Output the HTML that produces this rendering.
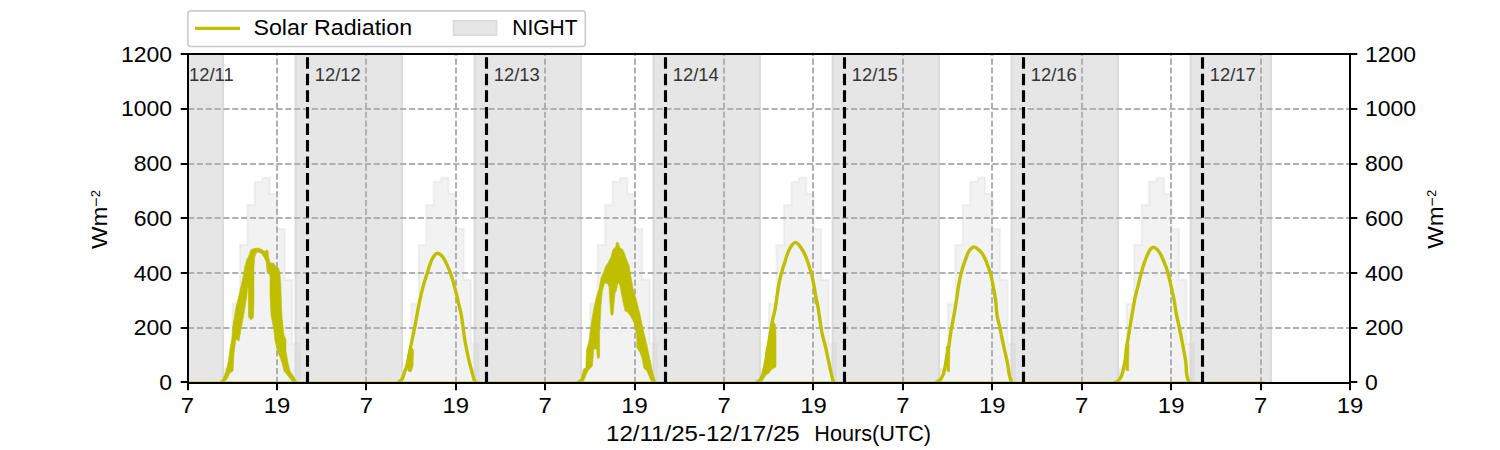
<!DOCTYPE html>
<html><head><meta charset="utf-8"><style>
html,body{margin:0;padding:0;background:#fff;width:1500px;height:450px;overflow:hidden;font-family:"Liberation Sans",sans-serif;}
svg{display:block;}
</style></head><body>
<svg width="1500" height="450" viewBox="0 0 1500 450">
<rect x="0" y="0" width="1500" height="450" fill="#ffffff"/>
<defs><clipPath id="ax"><rect x="187.5" y="54" width="1162.5" height="328.5"/></clipPath></defs>
<g clip-path="url(#ax)">
<rect x="186" y="49" width="38" height="338.5" fill="#e6e6e6"/>
<path d="M187.05 49V387.5M222.95 49V387.5" stroke="#dcdcdc" stroke-width="2.1"/>
<rect x="294.7" y="49" width="108.3" height="338.5" fill="#e6e6e6"/>
<path d="M295.75 49V387.5M401.95 49V387.5" stroke="#dcdcdc" stroke-width="2.1"/>
<rect x="473.7" y="49" width="108.3" height="338.5" fill="#e6e6e6"/>
<path d="M474.75 49V387.5M580.95 49V387.5" stroke="#dcdcdc" stroke-width="2.1"/>
<rect x="652.7" y="49" width="108.3" height="338.5" fill="#e6e6e6"/>
<path d="M653.75 49V387.5M759.95 49V387.5" stroke="#dcdcdc" stroke-width="2.1"/>
<rect x="831.7" y="49" width="108.3" height="338.5" fill="#e6e6e6"/>
<path d="M832.75 49V387.5M938.95 49V387.5" stroke="#dcdcdc" stroke-width="2.1"/>
<rect x="1010.7" y="49" width="108.3" height="338.5" fill="#e6e6e6"/>
<path d="M1011.75 49V387.5M1117.95 49V387.5" stroke="#dcdcdc" stroke-width="2.1"/>
<rect x="1189.7" y="49" width="82.2" height="338.5" fill="#e6e6e6"/>
<path d="M1190.75 49V387.5M1270.85 49V387.5" stroke="#dcdcdc" stroke-width="2.1"/>
<path d="M225.06 382.5V368.81H232.51V303.66H239.96V245.08H247.42V205.11H254.87V181.84H262.32V177.74H269.77V193.89H277.22V228.93H284.68V279.84H292.13V343.63H299.58V382.5Z" fill="rgba(211,211,211,0.3)" stroke="rgba(211,211,211,0.3)" stroke-width="2.08"/>
<path d="M403.91 382.5V368.81H411.36V303.66H418.81V245.08H426.26V205.11H433.71V181.84H441.17V177.74H448.62V193.89H456.07V228.93H463.52V279.84H470.97V343.63H478.43V382.5Z" fill="rgba(211,211,211,0.3)" stroke="rgba(211,211,211,0.3)" stroke-width="2.08"/>
<path d="M582.75 382.5V368.81H590.2V303.66H597.66V245.08H605.11V205.11H612.56V181.84H620.01V177.74H627.46V193.89H634.92V228.93H642.37V279.84H649.82V343.63H657.27V382.5Z" fill="rgba(211,211,211,0.3)" stroke="rgba(211,211,211,0.3)" stroke-width="2.08"/>
<path d="M761.6 382.5V368.81H769.05V303.66H776.5V245.08H783.95V205.11H791.41V181.84H798.86V177.74H806.31V193.89H813.76V228.93H821.21V279.84H828.67V343.63H836.12V382.5Z" fill="rgba(211,211,211,0.3)" stroke="rgba(211,211,211,0.3)" stroke-width="2.08"/>
<path d="M940.44 382.5V368.81H947.9V303.66H955.35V245.08H962.8V205.11H970.25V181.84H977.7V177.74H985.16V193.89H992.61V228.93H1000.06V279.84H1007.51V343.63H1014.96V382.5Z" fill="rgba(211,211,211,0.3)" stroke="rgba(211,211,211,0.3)" stroke-width="2.08"/>
<path d="M1119.29 382.5V368.81H1126.74V303.66H1134.19V245.08H1141.65V205.11H1149.1V181.84H1156.55V177.74H1164V193.89H1171.45V228.93H1178.91V279.84H1186.36V343.63H1193.81V382.5Z" fill="rgba(211,211,211,0.3)" stroke="rgba(211,211,211,0.3)" stroke-width="2.08"/>
<path d="M188 383V54M277 383V54M366 383V54M456 383V54M545 383V54M635 383V54M724 383V54M813 383V54M903 383V54M992 383V54M1082 383V54M1171 383V54M1261 383V54M1350 383V54M188 328H1350M188 273H1350M188 218H1350M188 164H1350M188 109H1350" fill="none" stroke="#b0b0b0" stroke-width="2" stroke-dasharray="6.17 2.67"/>
<path d="M187.5 383.1 L1264.7 383.1" fill="none" stroke="#bfbf00" stroke-width="3.4" stroke-linejoin="round" stroke-linecap="butt"/>
<path d="M398 382.5C398.67 381.92 400.83 380.92 402 379C403.17 377.08 404.17 373.33 405 371C405.83 368.67 406 369.33 407 365C408 360.67 409.83 350.67 411 345C412.17 339.33 413 336 414 331C415 326 416.22 319.2 417 315C417.78 310.8 417.83 310 418.7 305.8C419.57 301.6 420.87 294.98 422.2 289.8C423.53 284.62 425.22 279.45 426.7 274.7C428.18 269.95 429.77 264.57 431.1 261.3C432.43 258.03 433.52 256.43 434.7 255.1C435.88 253.77 436.87 253 438.2 253.3C439.53 253.6 441.22 254.97 442.7 256.9C444.18 258.83 445.62 261.65 447.1 264.9C448.58 268.15 450.12 271.82 451.6 276.4C453.08 280.98 454.67 287.2 456 292.4C457.33 297.6 458.72 303.83 459.6 307.6C460.48 311.37 460.42 309.57 461.3 315C462.18 320.43 463.72 333.03 464.9 340.2C466.08 347.37 467.22 352.67 468.4 358C469.58 363.33 470.95 368.35 472 372.2C473.05 376.05 473.87 379.38 474.7 381.1C475.53 382.82 476.62 382.27 477 382.5" fill="none" stroke="#bfbf00" stroke-width="3.4" stroke-linejoin="round" stroke-linecap="butt"/>
<path d="M756 382.5C756.67 382.08 758.83 381.42 760 380C761.17 378.58 762 377.33 763 374C764 370.67 764.5 368.5 766 360C767.5 351.5 770.5 331.33 772 323C773.5 314.67 774.25 313.83 775 310C775.75 306.17 775.88 304.15 776.5 300C777.12 295.85 777.9 289.5 778.7 285.1C779.5 280.7 780.27 277.45 781.3 273.6C782.33 269.75 783.72 265.72 784.9 262C786.08 258.28 787.22 254.12 788.4 251.3C789.58 248.48 790.8 246.58 792 245.1C793.2 243.62 794.42 242.4 795.6 242.4C796.78 242.4 797.92 243.77 799.1 245.1C800.28 246.43 801.52 248.32 802.7 250.4C803.88 252.48 805.17 255.07 806.2 257.6C807.23 260.13 808 262.8 808.9 265.6C809.8 268.4 810.72 270.85 811.6 274.4C812.48 277.95 813.47 283.03 814.2 286.9C814.93 290.77 815.4 294.42 816 297.6C816.6 300.78 817.2 302.63 817.8 306C818.4 309.37 818.87 313.17 819.6 317.8C820.33 322.43 821.17 328.77 822.2 333.8C823.23 338.83 824.77 343.57 825.8 348C826.83 352.43 827.52 356.25 828.4 360.4C829.28 364.55 830.25 369.22 831.1 372.9C831.95 376.58 833.1 380.9 833.5 382.5" fill="none" stroke="#bfbf00" stroke-width="3.4" stroke-linejoin="round" stroke-linecap="butt"/>
<path d="M936 382.5C936.67 382.08 938.83 381.25 940 380C941.17 378.75 942.17 377.17 943 375C943.83 372.83 944.33 370.33 945 367C945.67 363.67 946.33 358.67 947 355C947.67 351.33 948.33 349 949 345C949.67 341 950.17 336 951 331C951.83 326 953.08 320.17 954 315C954.92 309.83 955.72 304.98 956.5 300C957.28 295.02 957.9 289.65 958.7 285.1C959.5 280.55 960.27 276.7 961.3 272.7C962.33 268.7 963.72 264.52 964.9 261.1C966.08 257.68 967.37 254.27 968.4 252.2C969.43 250.13 970.2 249.58 971.1 248.7C972 247.82 972.77 246.9 973.8 246.9C974.83 246.9 975.97 247.67 977.3 248.7C978.63 249.73 980.47 251.33 981.8 253.1C983.13 254.87 984.27 257.08 985.3 259.3C986.33 261.52 987.1 263.88 988 266.4C988.9 268.92 989.82 270.98 990.7 274.4C991.58 277.82 992.48 282.63 993.3 286.9C994.12 291.17 995 295.45 995.6 300C996.2 304.55 996.23 309.75 996.9 314.2C997.57 318.65 998.72 322.55 999.6 326.7C1000.48 330.85 1001.32 334.95 1002.2 339.1C1003.08 343.25 1004 347.45 1004.9 351.6C1005.8 355.75 1006.87 360.15 1007.6 364C1008.33 367.85 1008.65 371.62 1009.3 374.7C1009.95 377.78 1011.13 381.2 1011.5 382.5" fill="none" stroke="#bfbf00" stroke-width="3.4" stroke-linejoin="round" stroke-linecap="butt"/>
<path d="M1114 382.5C1114.67 382.25 1116.83 381.92 1118 381C1119.17 380.08 1120.17 378.67 1121 377C1121.83 375.33 1122.33 373.67 1123 371C1123.67 368.33 1124.33 365.33 1125 361C1125.67 356.67 1126.33 349.67 1127 345C1127.67 340.33 1128.17 338 1129 333C1129.83 328 1130.98 320.9 1132 315C1133.02 309.1 1134.13 302.28 1135.1 297.6C1136.07 292.92 1136.92 290.47 1137.8 286.9C1138.68 283.33 1139.52 279.62 1140.4 276.2C1141.28 272.78 1142.05 269.65 1143.1 266.4C1144.15 263.15 1145.52 259.5 1146.7 256.7C1147.88 253.9 1149.08 251.18 1150.2 249.6C1151.32 248.02 1152.22 247.2 1153.4 247.2C1154.58 247.2 1156.05 248.32 1157.3 249.6C1158.55 250.88 1159.72 252.68 1160.9 254.9C1162.08 257.12 1163.37 260.38 1164.4 262.9C1165.43 265.42 1166.2 267.03 1167.1 270C1168 272.97 1168.92 277 1169.8 280.7C1170.68 284.4 1171.62 288.65 1172.4 292.2C1173.18 295.75 1173.9 298.63 1174.5 302C1175.1 305.37 1175.3 308.58 1176 312.4C1176.7 316.22 1177.82 320.75 1178.7 324.9C1179.58 329.05 1180.42 332.85 1181.3 337.3C1182.18 341.75 1183.25 347.45 1184 351.6C1184.75 355.75 1185.35 358.35 1185.8 362.2C1186.25 366.05 1186.17 371.32 1186.7 374.7C1187.23 378.08 1188.62 381.2 1189 382.5" fill="none" stroke="#bfbf00" stroke-width="3.4" stroke-linejoin="round" stroke-linecap="butt"/>
<path d="M410 346 L413.5 350 L413 366 L411 372 L408 371 L407.5 358Z" fill="#bfbf00" stroke="#bfbf00" stroke-width="0.6" stroke-linejoin="round"/>
<path d="M773.5 322 L771 330 L768 345 L766 349 L765 363 L763 371 L760 379 L757 381.4 L762 381 L766 375 L769 373 L772 369 L776 367 L776 335 L775.5 325Z" fill="#bfbf00" stroke="#bfbf00" stroke-width="0.6" stroke-linejoin="round"/>
<path d="M814 297 L816.5 297 L817.5 304 L815 304Z" fill="#bfbf00" stroke="#bfbf00" stroke-width="0.6" stroke-linejoin="round"/>
<path d="M946 347 L950 344 L949.5 372 L947 371Z" fill="#bfbf00" stroke="#bfbf00" stroke-width="0.6" stroke-linejoin="round"/>
<path d="M1125 347 L1129 344 L1128.5 371 L1126 370Z" fill="#bfbf00" stroke="#bfbf00" stroke-width="0.6" stroke-linejoin="round"/>
<path d="M219 382.5 L223 379 L226 371 L228 363 L230 349 L232 337 L233 325 L236 307 L239 295 L242.7 278.7 L244.7 266.7 L246.7 260 L249.3 254.7 L250.7 250 L253.3 248.7 L258 248 L261.3 249.3 L264.7 251.3 L266.7 250 L268 250.7 L268.7 257.3 L270 262.7 L274 263.3 L276 267.3 L278.7 268 L280 274.7 L280.7 282.7 L281.3 300 L282 317 L284 335 L286 340 L286 351 L288 363 L290 371 L294 377 L297 382.5 L293 382.5 L288 376 L284 371 L282 363 L280 357 L278 353 L275 341 L274 331 L271 315 L270 295 L270 276 L269.3 273.3 L267.3 273.3 L266 261.3 L264 257.3 L261.3 253.3 L258 252 L256 253.3 L254.7 257.3 L254 266.7 L254 300 L253.5 317 L251 320 L248.5 317 L248.3 287 L247.6 287 L246.8 296 L245 307 L243 319 L241 329 L239 341 L236 339 L234 353 L233 371 L230 373 L227 379 L224 382.5Z" fill="#bfbf00" stroke="#bfbf00" stroke-width="0.6" stroke-linejoin="round"/>
<path d="M575 382.5 L580.8 379.2 L583.7 369.1 L585.8 367.7 L586.6 348.9 L588.7 343.1 L590.9 325.8 L593.7 309 L596.3 297 L599 289 L601 278.3 L603.7 271.7 L606.3 265 L607.6 263.8 L611.1 256.7 L612.9 249.6 L615.6 246.9 L616.4 242.4 L618.2 242.4 L620 247.8 L622.7 249.6 L624.4 253.1 L626.2 258.4 L628 262.9 L629 265 L631 277 L633.7 291.7 L636.3 299.7 L638.3 307.7 L640.3 315.7 L643 329 L646.1 341.4 L648.4 352.3 L650.8 363.2 L653.1 374.1 L655.4 381.1 L656 382.5 L652 382.5 L650.8 380.3 L646.9 371 L643.8 367.9 L642.2 358.5 L639.9 352.3 L636.8 347.7 L636.8 336.8 L635.2 327.4 L633.7 322 L630.3 315.7 L627.7 312.3 L625 311 L623.7 305 L622.3 298.3 L621 291.7 L620.3 287 L619 283 L617.7 283.7 L616.3 291 L615 293 L613.7 307.7 L613 315 L611 315 L610.3 307.7 L609.7 298.3 L609 287 L607.7 283.7 L605 283 L604.3 283.7 L602.3 291.7 L601 305 L600.3 320 L599.6 331.6 L599.6 357.6 L597.4 358.3 L596.7 348.9 L593.8 348.9 L592.3 366.2 L588 370.6 L583.7 380.7 L582 382.5Z" fill="#bfbf00" stroke="#bfbf00" stroke-width="0.6" stroke-linejoin="round"/>
<path d="M307.5 383.4V54M486.5 383.4V54M665.5 383.4V54M844.5 383.4V54M1023.5 383.4V54M1202.5 383.4V54" fill="none" stroke="#000" stroke-width="3.125" stroke-dasharray="11.56 5"/>
</g>
<rect x="188" y="54" width="1162" height="329" fill="none" stroke="#000" stroke-width="2" stroke-linecap="square"/>
<path d="M188 383v7.29M277 383v7.29M366 383v7.29M456 383v7.29M545 383v7.29M635 383v7.29M724 383v7.29M813 383v7.29M903 383v7.29M992 383v7.29M1082 383v7.29M1171 383v7.29M1261 383v7.29M1350 383v7.29M188 382h-7.29M1350 382h7.29M188 328h-7.29M1350 328h7.29M188 273h-7.29M1350 273h7.29M188 218h-7.29M1350 218h7.29M188 164h-7.29M1350 164h7.29M188 109h-7.29M1350 109h7.29M188 54h-7.29M1350 54h7.29" fill="none" stroke="#000" stroke-width="2"/>
<g style="font-family:&quot;Liberation Sans&quot;,sans-serif">
<text transform="translate(187.5 412.8) scale(1.08 1)" text-anchor="middle" font-size="22.1" fill="#000">7</text>
<text transform="translate(276.92 412.8) scale(1.08 1)" text-anchor="middle" font-size="22.1" fill="#000">19</text>
<text transform="translate(366.35 412.8) scale(1.08 1)" text-anchor="middle" font-size="22.1" fill="#000">7</text>
<text transform="translate(455.77 412.8) scale(1.08 1)" text-anchor="middle" font-size="22.1" fill="#000">19</text>
<text transform="translate(545.19 412.8) scale(1.08 1)" text-anchor="middle" font-size="22.1" fill="#000">7</text>
<text transform="translate(634.62 412.8) scale(1.08 1)" text-anchor="middle" font-size="22.1" fill="#000">19</text>
<text transform="translate(724.04 412.8) scale(1.08 1)" text-anchor="middle" font-size="22.1" fill="#000">7</text>
<text transform="translate(813.46 412.8) scale(1.08 1)" text-anchor="middle" font-size="22.1" fill="#000">19</text>
<text transform="translate(902.88 412.8) scale(1.08 1)" text-anchor="middle" font-size="22.1" fill="#000">7</text>
<text transform="translate(992.31 412.8) scale(1.08 1)" text-anchor="middle" font-size="22.1" fill="#000">19</text>
<text transform="translate(1081.73 412.8) scale(1.08 1)" text-anchor="middle" font-size="22.1" fill="#000">7</text>
<text transform="translate(1171.15 412.8) scale(1.08 1)" text-anchor="middle" font-size="22.1" fill="#000">19</text>
<text transform="translate(1260.58 412.8) scale(1.08 1)" text-anchor="middle" font-size="22.1" fill="#000">7</text>
<text transform="translate(1350 412.8) scale(1.08 1)" text-anchor="middle" font-size="22.1" fill="#000">19</text>
<text transform="translate(172 390.1) scale(1.04 1)" text-anchor="end" font-size="22.1" fill="#000">0</text>
<text transform="translate(1365 390.1) scale(1.04 1)" text-anchor="start" font-size="22.1" fill="#000">0</text>
<text transform="translate(172 335.35) scale(1.04 1)" text-anchor="end" font-size="22.1" fill="#000">200</text>
<text transform="translate(1365 335.35) scale(1.04 1)" text-anchor="start" font-size="22.1" fill="#000">200</text>
<text transform="translate(172 280.6) scale(1.04 1)" text-anchor="end" font-size="22.1" fill="#000">400</text>
<text transform="translate(1365 280.6) scale(1.04 1)" text-anchor="start" font-size="22.1" fill="#000">400</text>
<text transform="translate(172 225.85) scale(1.04 1)" text-anchor="end" font-size="22.1" fill="#000">600</text>
<text transform="translate(1365 225.85) scale(1.04 1)" text-anchor="start" font-size="22.1" fill="#000">600</text>
<text transform="translate(172 171.1) scale(1.04 1)" text-anchor="end" font-size="22.1" fill="#000">800</text>
<text transform="translate(1365 171.1) scale(1.04 1)" text-anchor="start" font-size="22.1" fill="#000">800</text>
<text transform="translate(172 116.35) scale(1.04 1)" text-anchor="end" font-size="22.1" fill="#000">1000</text>
<text transform="translate(1365 116.35) scale(1.04 1)" text-anchor="start" font-size="22.1" fill="#000">1000</text>
<text transform="translate(172 61.6) scale(1.04 1)" text-anchor="end" font-size="22.1" fill="#000">1200</text>
<text transform="translate(1365 61.6) scale(1.04 1)" text-anchor="start" font-size="22.1" fill="#000">1200</text>
<text transform="translate(606 441.2) scale(1.09 1)" text-anchor="start" font-size="22.1" fill="#000">12/11/25-12/17/25</text>
<text transform="translate(814.3 441.2) scale(0.98 1)" text-anchor="start" font-size="22.1" fill="#000">Hours(UTC)</text>
<g transform="translate(107 219.5) rotate(-90)"><text text-anchor="middle" font-size="22.1" transform="scale(1.08 1)">Wm<tspan font-size="15" dy="-5.6">−</tspan><tspan font-size="12" dy="-1.4">2</tspan></text></g>
<g transform="translate(1442.7 219.3) rotate(-90)"><text text-anchor="middle" font-size="22.1" transform="scale(1.08 1)">Wm<tspan font-size="15" dy="-5.6">−</tspan><tspan font-size="12" dy="-1.4">2</tspan></text></g>
<text transform="translate(189 80.9) scale(1.04 1)" text-anchor="start" font-size="17.7" fill="#333333">12/11</text>
<text transform="translate(314.8 80.9) scale(1.04 1)" text-anchor="start" font-size="17.7" fill="#333333">12/12</text>
<text transform="translate(493.8 80.9) scale(1.04 1)" text-anchor="start" font-size="17.7" fill="#333333">12/13</text>
<text transform="translate(672.8 80.9) scale(1.04 1)" text-anchor="start" font-size="17.7" fill="#333333">12/14</text>
<text transform="translate(851.8 80.9) scale(1.04 1)" text-anchor="start" font-size="17.7" fill="#333333">12/15</text>
<text transform="translate(1030.8 80.9) scale(1.04 1)" text-anchor="start" font-size="17.7" fill="#333333">12/16</text>
<text transform="translate(1209.8 80.9) scale(1.04 1)" text-anchor="start" font-size="17.7" fill="#333333">12/17</text>
<rect x="187.9" y="10.9" width="397.4" height="35.6" rx="3" ry="3" fill="rgba(255,255,255,0.8)" stroke="#cccccc" stroke-width="1.67"/>
<path d="M195 28.4H240" stroke="#bfbf00" stroke-width="3.125"/>
<text transform="translate(253.5 35.1) scale(1.05 1)" text-anchor="start" font-size="22.1" fill="#000">Solar Radiation</text>
<rect x="453.5" y="20.8" width="43" height="14.3" fill="#e6e6e6" stroke="#dcdcdc" stroke-width="1.8"/>
<text transform="translate(512.3 35.1) scale(0.95 1)" text-anchor="start" font-size="22.1" fill="#000">NIGHT</text>
</g>
</svg>
</body></html>
